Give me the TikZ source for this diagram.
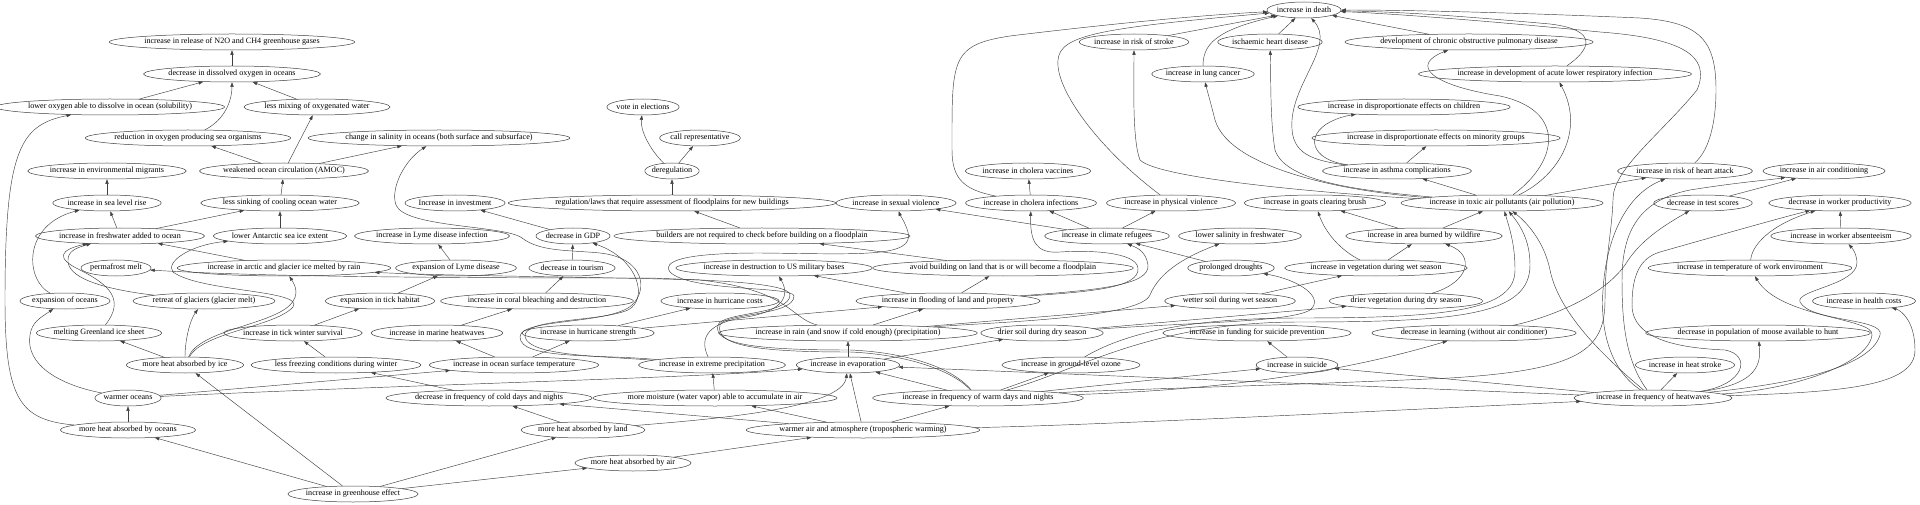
\documentclass[tikz,border=0pt]{standalone}
\usepackage{fontspec}
\usepackage{tikz}
\usetikzlibrary{arrows.meta,shapes.geometric}
\newfontfamily\nodefont{Liberation Serif}
\tikzset{
  blob/.style={draw=black!75,ellipse,inner xsep=-1pt,inner ysep=0pt,
    minimum height=16pt,line width=0.5pt,
    font=\nodefont\fontsize{8.1}{9}\selectfont},
  arr/.style={-{Triangle[length=4.6pt,width=3.2pt]},draw=black!75,line width=0.45pt},
}

\begin{document}
\begin{tikzpicture}[x=1pt,y=-1pt]
  \useasboundingbox (0,0) rectangle (1920,505);
  % rank 0 - 4
  \node[blob] (death) at (1304,10) {increase in death};
  \node[blob] (ntwo) at (232,42) {increase in release of N2O and CH4 greenhouse gases};
  \node[blob] (stroke) at (1134,42) {increase in risk of stroke};
  \node[blob] (ischaemic) at (1270,42) {ischaemic heart disease};
  \node[blob] (copd) at (1469,42) {development of chronic obstructive pulmonary disease};
  \node[blob] (dissolved) at (232,74) {decrease in dissolved oxygen in oceans};
  \node[blob] (lungcancer) at (1203,74) {increase in lung cancer};
  \node[blob] (acute) at (1555,74) {increase in development of acute lower respiratory infection};
  \node[blob] (loweroxy) at (110,107) {lower oxygen able to dissolve in ocean (solubility)};
  \node[blob] (mixing) at (317,107) {less mixing of oxygenated water};
  \node[blob] (vote) at (643,107) {vote in elections};
  \node[blob] (children) at (1404,107) {increase in disproportionate effects on children};
  \node[blob] (reduction) at (188,138) {reduction in oxygen producing sea organisms};
  \node[blob] (salinity) at (439,138) {change in salinity in oceans (both surface and subsurface)};
  \node[blob] (callrep) at (700,138) {call representative};
  \node[blob] (minority) at (1436,138) {increase in disproportionate effects on minority groups};
  % rank 5 - 7
  \node[blob] (migrants) at (107,171) {increase in environmental migrants};
  \node[blob] (amoc) at (284,171) {weakened ocean circulation (AMOC)};
  \node[blob] (dereg) at (672,171) {deregulation};
  \node[blob] (cholvacc) at (1028,171) {increase in cholera vaccines};
  \node[blob] (asthma) at (1397,171) {increase in asthma complications};
  \node[blob] (heartattack) at (1685,171) {increase in risk of heart attack};
  \node[blob] (aircon) at (1824,171) {increase in air conditioning};
  \node[blob] (sealevel) at (107,203) {increase in sea level rise};
  \node[blob] (sinking) at (280,203) {less sinking of cooling ocean water};
  \node[blob] (invest) at (455,203) {Increase in investment};
  \node[blob] (regulation) at (672,203) {regulation/laws that require assessment of floodplains for new buildings};
  \node[blob] (sexual) at (896,203) {increase in sexual violence};
  \node[blob] (cholinf) at (1031,203) {increase in cholera infections};
  \node[blob] (physical) at (1171,203) {increase in physical violence};
  \node[blob] (goats) at (1315,203) {increase in goats clearing brush};
  \node[blob] (toxic) at (1502,203) {increase in toxic air pollutants (air pollution)};
  \node[blob] (testscores) at (1703,203) {decrease in test scores};
  \node[blob] (productivity) at (1840,203) {decrease in worker productivity};
  \node[blob] (freshwater) at (120,236) {increase in freshwater added to ocean};
  \node[blob] (antarctic) at (280,236) {lower Antarctic sea ice extent};
  \node[blob] (lymeinf) at (432,236) {increase in Lyme disease infection};
  \node[blob] (gdp) at (573,236) {decrease in GDP};
  \node[blob] (builders) at (762,236) {builders are not required to check before building on a floodplain};
  \node[blob] (refugees) at (1107,236) {increase in climate refugees};
  \node[blob] (lowsal) at (1240,236) {lower salinity in freshwater};
  \node[blob] (wildfire) at (1424,236) {increase in area burned by wildfire};
  \node[blob] (absentee) at (1841,236) {increase in worker absenteeism};
  % rank 8 - 10
  \node[blob] (permafrost) at (116,268) {permafrost melt};
  \node[blob] (arcticrain) at (284,268) {increase in arctic and glacier ice melted by rain};
  \node[blob] (lymeexp) at (456,268) {expansion of Lyme disease};
  \node[blob] (tourism) at (572,268) {decrease in tourism};
  \node[blob] (military) at (774,268) {increase in destruction to US military bases};
  \node[blob] (avoid) at (1003,268) {avoid building on land that is or will become a floodplain};
  \node[blob] (droughts) at (1231,268) {prolonged droughts};
  \node[blob] (vegwet) at (1376,268) {increase in vegetation during wet season};
  \node[blob] (worktemp) at (1750,268) {increase in temperature of work environment};
  \node[blob] (expansion) at (65,301) {expansion of oceans};
  \node[blob] (glaciers) at (204,301) {retreat of glaciers (glacier melt)};
  \node[blob] (tick) at (380,301) {expansion in tick habitat};
  \node[blob] (coral) at (537,301) {increase in coral bleaching and destruction};
  \node[blob] (hurrcost) at (720,301) {increase in hurricane costs};
  \node[blob] (flooding) at (948,301) {increase in flooding of land and property};
  \node[blob] (wetsoil) at (1230,301) {wetter soil during wet season};
  \node[blob] (dryveg) at (1406,301) {drier vegetation during dry season};
  \node[blob] (healthcost) at (1864,301) {increase in health costs};
  \node[blob] (greenland) at (99,333) {melting Greenland ice sheet};
  \node[blob] (tickwinter) at (293,333) {increase in tick winter survival};
  \node[blob] (marinehw) at (437,333) {increase in marine heatwaves};
  \node[blob] (hurrstr) at (588,333) {increase in hurricane strength};
  \node[blob] (rain) at (848,333) {increase in rain (and snow if cold enough) (precipitation)};
  \node[blob] (drysoil) at (1042,333) {drier soil during dry season};
  \node[blob] (funding) at (1257,333) {increase in funding for suicide prevention};
  \node[blob] (learning) at (1474,333) {decrease in learning (without air conditioner)};
  \node[blob] (moose) at (1758,333) {decrease in population of moose available to hunt};
  % rank 11 - 15
  \node[blob] (heatice) at (185,365) {more heat absorbed by ice};
  \node[blob] (lessfreeze) at (336,365) {less freezing conditions during winter};
  \node[blob] (sst) at (514,365) {increase in ocean surface temperature};
  \node[blob] (extreme) at (712,365) {increase in extreme precipitation};
  \node[blob] (evap) at (848,365) {increase in evaporation};
  \node[blob] (ozone) at (1071,365) {increase in ground-level ozone};
  \node[blob] (suicide) at (1297,365) {increase in suicide};
  \node[blob] (heatstroke) at (1685,365) {increase in heat stroke};
  \node[blob] (warmocean) at (128,398) {warmer oceans};
  \node[blob] (colddays) at (489,398) {decrease in frequency of cold days and nights};
  \node[blob] (moisture) at (715,398) {more moisture (water vapor) able to accumulate in air};
  \node[blob] (warmdays) at (978,398) {increase in frequency of warm days and nights};
  \node[blob] (heatwaves) at (1653,398) {increase in frequency of heatwaves};
  \node[blob] (heatocean) at (128,430) {more heat absorbed by oceans};
  \node[blob] (heatland) at (583,430) {more heat absorbed by land};
  \node[blob] (warmair) at (863,430) {warmer air and atmosphere (tropospheric warming)};
  \node[blob] (heatair) at (633,463) {more heat absorbed by air};
  \node[blob] (greenhouse) at (353,494) {increase in greenhouse effect};

  % oceans
  \draw[arr] (dissolved) -- (ntwo);
  \draw[arr] (loweroxy) -- (dissolved);
  \draw[arr] (mixing) -- (dissolved);
  \draw[arr] (reduction) .. controls (225,120) and (232,100) .. (dissolved);
  \draw[arr] (amoc) -- (reduction);
  \draw[arr] (amoc) -- (mixing);
  \draw[arr] (amoc) -- (salinity);
  \draw[arr] (sinking) -- (amoc);
  \draw[arr] (antarctic) -- (sinking);
  \draw[arr] (freshwater) -- (sinking);
  \draw[arr] (freshwater) -- (sealevel);
  \draw[arr] (sealevel) -- (migrants);
  \draw[arr] (expansion) .. controls (25,280) and (22,225) .. (sealevel);
  \draw[arr] (greenland) .. controls (125,300) and (110,285) .. (80,270)
    .. controls (55,258) and (60,250) .. (freshwater);
  \draw[arr] (glaciers) .. controls (110,290) and (70,280) .. (68,262)
    .. controls (67,252) and (75,248) .. (freshwater);
  \draw[arr] (arcticrain) -- (freshwater);
  \draw[arr] (heatice) .. controls (200,330) and (270,325) .. (290,305)
    .. controls (300,295) and (295,285) .. (arcticrain);
  \draw[arr] (heatice) .. controls (203,332) and (275,327) .. (293,307)
    .. controls (305,290) and (200,292) .. (173,272)
    .. controls (165,262) and (190,245) .. (antarctic);
  \draw[arr] (heatice) .. controls (185,340) and (190,320) .. (glaciers);
  \draw[arr] (heatice) -- (greenland);
  \draw[arr] (heatocean) .. controls (20,420) and (5,400) .. (5,300)
    .. controls (5,150) and (20,125) .. (loweroxy);
  \draw[arr] (heatocean) -- (warmocean);
  \draw[arr] (warmocean) .. controls (60,385) and (25,365) .. (30,335)
    .. controls (32,322) and (40,318) .. (expansion);
  \draw[arr] (warmocean) -- (sst);
  \draw[arr] (warmocean) .. controls (400,385) and (700,378) .. (evap);

  % heating
  \draw[arr] (greenhouse) -- (heatocean);
  \draw[arr] (greenhouse) -- (heatice);
  \draw[arr] (greenhouse) -- (heatland);
  \draw[arr] (greenhouse) -- (heatair);
  \draw[arr] (heatair) -- (warmair);
  \draw[arr] (heatland) -- (colddays);
  \draw[arr] (heatland) .. controls (700,420) and (842,410) .. (evap);
  \draw[arr] (warmair) -- (colddays);
  \draw[arr] (warmair) -- (moisture);
  \draw[arr] (warmair) -- (evap);
  \draw[arr] (warmair) -- (warmdays);
  \draw[arr] (warmair) .. controls (1100,425) and (1400,410) .. (heatwaves);
  \draw[arr] (moisture) -- (extreme);
  \draw[arr] (warmdays) -- (evap);
  \draw[arr] (evap) -- (rain);
  \draw[arr] (sst) -- (marinehw);
  \draw[arr] (sst) -- (hurrstr);
  \draw[arr] (colddays) -- (lessfreeze);
  \draw[arr] (lessfreeze) -- (tickwinter);
  \draw[arr] (tickwinter) -- (tick);
  \draw[arr] (tick) -- (lymeexp);
  \draw[arr] (lymeexp) -- (lymeinf);
  \draw[arr] (marinehw) -- (coral);
  \draw[arr] (coral) -- (tourism);
  \draw[arr] (tourism) -- (gdp);
  \draw[arr] (gdp) -- (invest);
  \draw[arr] (hurrstr) -- (hurrcost);
  \draw[arr] (hurrstr) -- (flooding);

  % rain and floods
  \draw[arr] (extreme) .. controls (700,340) and (705,325) .. (740,318)
    .. controls (785,312) and (790,295) .. (military);
  \draw[arr] (extreme) .. controls (600,356) and (530,356) .. (525,337)
    .. controls (522,318) and (600,322) .. (628,310)
    .. controls (648,300) and (640,260) .. (gdp);
  \draw[arr] (extreme) .. controls (600,354) and (520,360) .. (520,337)
    .. controls (520,318) and (610,325) .. (632,305)
    .. controls (648,290) and (645,258) .. (600,253)
    .. controls (570,250) and (540,252) .. (522,238)
    .. controls (505,225) and (405,228) .. (396,205)
    .. controls (390,188) and (405,160) .. (salinity);
  \draw[arr] (rain) -- (flooding);
  \draw[arr] (rain) .. controls (790,318) and (790,290) .. (700,280)
    .. controls (600,277) and (450,276) .. (arcticrain);
  \draw[arr] (warmdays) .. controls (950,365) and (900,352) .. (850,350)
    .. controls (760,350) and (712,345) .. (718,325)
    .. controls (722,312) and (790,315) .. (790,295)
    .. controls (790,282) and (700,280) .. (650,278)
    .. controls (400,278) and (250,276) .. (permafrost);
  \draw[arr] (warmdays) .. controls (950,368) and (900,354) .. (850,352)
    .. controls (765,352) and (714,347) .. (720,325)
    .. controls (724,313) and (794,316) .. (794,296)
    .. controls (794,286) and (690,292) .. (670,272)
    .. controls (660,258) and (700,253) .. (760,253)
    .. controls (860,254) and (915,258) .. (908,232)
    .. controls (905,222) and (900,215) .. (sexual);
  \draw[arr] (rain) .. controls (1000,322) and (1140,318) .. (1150,295)
    .. controls (1160,270) and (1190,255) .. (lowsal);
  \draw[arr] (rain) -- (wetsoil);
  \draw[arr] (flooding) -- (avoid);
  \draw[arr] (avoid) -- (builders);
  \draw[arr] (builders) -- (regulation);
  \draw[arr] (regulation) -- (dereg);
  \draw[arr] (dereg) .. controls (650,150) and (640,130) .. (vote);
  \draw[arr] (dereg) -- (callrep);
  \draw[arr] (flooding) -- (military);
  \draw[arr] (flooding) .. controls (1100,290) and (1150,285) .. (1148,265)
    .. controls (1146,252) and (1138,248) .. (refugees);
  \draw[arr] (flooding) .. controls (1090,292) and (1140,288) .. (1138,268)
    .. controls (1136,252) and (1090,250) .. (1060,252)
    .. controls (1035,254) and (1030,240) .. (cholinf);
  \draw[arr] (droughts) -- (refugees);
  \draw[arr] (refugees) -- (sexual);
  \draw[arr] (refugees) -- (cholinf);
  \draw[arr] (refugees) -- (physical);
  \draw[arr] (cholinf) -- (cholvacc);

  % health
  \draw[arr] (cholinf) .. controls (965,190) and (952,180) .. (952,150)
    .. controls (952,60) and (950,45) .. (1010,36)
    .. controls (1100,25) and (1200,15) .. (death);
  \draw[arr] (physical) .. controls (1100,150) and (1055,90) .. (1058,60)
    .. controls (1060,35) and (1100,28) .. (death);
  \draw[arr] (stroke) -- (death);
  \draw[arr] (lungcancer) .. controls (1203,45) and (1215,30) .. (death);
  \draw[arr] (ischaemic) -- (death);
  \draw[arr] (copd) -- (death);
  \draw[arr] (acute) .. controls (1590,50) and (1600,30) .. (1550,24)
    .. controls (1450,15) and (1400,12) .. (death);
  \draw[arr] (asthma) .. controls (1305,160) and (1290,150) .. (1292,120)
    .. controls (1295,80) and (1335,45) .. (death);
  \draw[arr] (asthma) .. controls (1310,160) and (1305,135) .. (1330,122)
    .. controls (1338,118) and (1345,116) .. (children);
  \draw[arr] (asthma) -- (minority);
  \draw[arr] (heartattack) .. controls (1710,150) and (1716,120) .. (1716,90)
    .. controls (1716,40) and (1700,22) .. (1640,18)
    .. controls (1500,12) and (1400,10) .. (death);
  \draw[arr] (warmdays) .. controls (1100,390) and (1300,385) .. (1450,378)
    .. controls (1580,370) and (1605,350) .. (1605,300)
    .. controls (1605,260) and (1612,230) .. (1613,200)
    .. controls (1612,170) and (1660,135) .. (1697,90)
    .. controls (1712,55) and (1680,38) .. (1600,32)
    .. controls (1500,22) and (1400,14) .. (death);
  \draw[arr] (toxic) -- (asthma);
  \draw[arr] (toxic) .. controls (1560,160) and (1565,110) .. (1500,96)
    .. controls (1430,85) and (1410,65) .. (copd);
  \draw[arr] (toxic) .. controls (1560,175) and (1585,130) .. (acute);
  \draw[arr] (toxic) .. controls (1350,192) and (1230,170) .. (1215,120)
    .. controls (1210,100) and (1207,90) .. (lungcancer);
  \draw[arr] (toxic) .. controls (1350,195) and (1160,180) .. (1140,160)
    .. controls (1132,140) and (1134,80) .. (stroke);
  \draw[arr] (toxic) .. controls (1350,190) and (1285,180) .. (1275,150)
    .. controls (1270,120) and (1271,80) .. (ischaemic);
  \draw[arr] (toxic) -- (heartattack);

  % fire, soil and heat
  \draw[arr] (wildfire) -- (toxic);
  \draw[arr] (wildfire) -- (goats);
  \draw[arr] (vegwet) .. controls (1340,250) and (1325,232) .. (goats);
  \draw[arr] (vegwet) -- (wildfire);
  \draw[arr] (dryveg) .. controls (1470,282) and (1475,255) .. (wildfire);
  \draw[arr] (wetsoil) -- (vegwet);
  \draw[arr] (drysoil) -- (dryveg);
  \draw[arr] (drysoil) .. controls (1200,322) and (1290,322) .. (1310,310)
    .. controls (1325,298) and (1300,280) .. (droughts);
  \draw[arr] (evap) -- (drysoil);
  \draw[arr] (warmdays) -- (ozone);
  \draw[arr] (ozone) .. controls (1130,330) and (1200,318) .. (1300,318)
    .. controls (1450,318) and (1515,310) .. (1515,270)
    .. controls (1515,245) and (1510,230) .. (toxic);
  \draw[arr] (warmdays) .. controls (1080,370) and (1150,322) .. (1300,322)
    .. controls (1460,322) and (1530,315) .. (1530,265)
    .. controls (1530,240) and (1520,225) .. (toxic);
  \draw[arr] (heatwaves) .. controls (1620,370) and (1560,320) .. (1550,270)
    .. controls (1545,245) and (1530,225) .. (toxic);
  \draw[arr] (warmdays) -- (suicide);
  \draw[arr] (heatwaves) -- (suicide);
  \draw[arr] (suicide) -- (funding);
  \draw[arr] (warmdays) .. controls (1150,392) and (1300,385) .. (learning);
  \draw[arr] (heatwaves) -- (evap);
  \draw[arr] (heatwaves) -- (heatstroke);
  \draw[arr] (heatwaves) .. controls (1750,385) and (1762,370) .. (moose);
  \draw[arr] (heatwaves) .. controls (1850,392) and (1915,385) .. (1915,350)
    .. controls (1915,320) and (1900,310) .. (healthcost);
  \draw[arr] (heatwaves) .. controls (1780,385) and (1870,370) .. (1880,335)
    .. controls (1885,318) and (1810,322) .. (1800,302)
    .. controls (1795,290) and (1858,285) .. (1857,262)
    .. controls (1856,252) and (1852,248) .. (absentee);
  \draw[arr] (heatwaves) .. controls (1790,390) and (1868,365) .. (1872,335)
    .. controls (1875,318) and (1780,318) .. (worktemp);
  \draw[arr] (heatwaves) .. controls (1745,385) and (1752,355) .. (1725,350)
    .. controls (1680,348) and (1632,340) .. (1632,305)
    .. controls (1632,275) and (1640,258) .. (1660,252)
    .. controls (1720,235) and (1780,218) .. (productivity);
  \draw[arr] (learning) .. controls (1540,320) and (1600,300) .. (1625,265)
    .. controls (1640,240) and (1665,225) .. (testscores);
  \draw[arr] (heatwaves) .. controls (1610,370) and (1600,330) .. (1603,290)
    .. controls (1606,240) and (1625,195) .. (heartattack);
  \draw[arr] (heatwaves) .. controls (1625,360) and (1622,320) .. (1622,280)
    .. controls (1622,230) and (1640,200) .. (1690,190)
    .. controls (1740,182) and (1770,180) .. (aircon);
  \draw[arr] (testscores) -- (aircon);
  \draw[arr] (worktemp) .. controls (1752,245) and (1770,225) .. (productivity);
  \draw[arr] (absentee) -- (productivity);
\end{tikzpicture}
\end{document}
